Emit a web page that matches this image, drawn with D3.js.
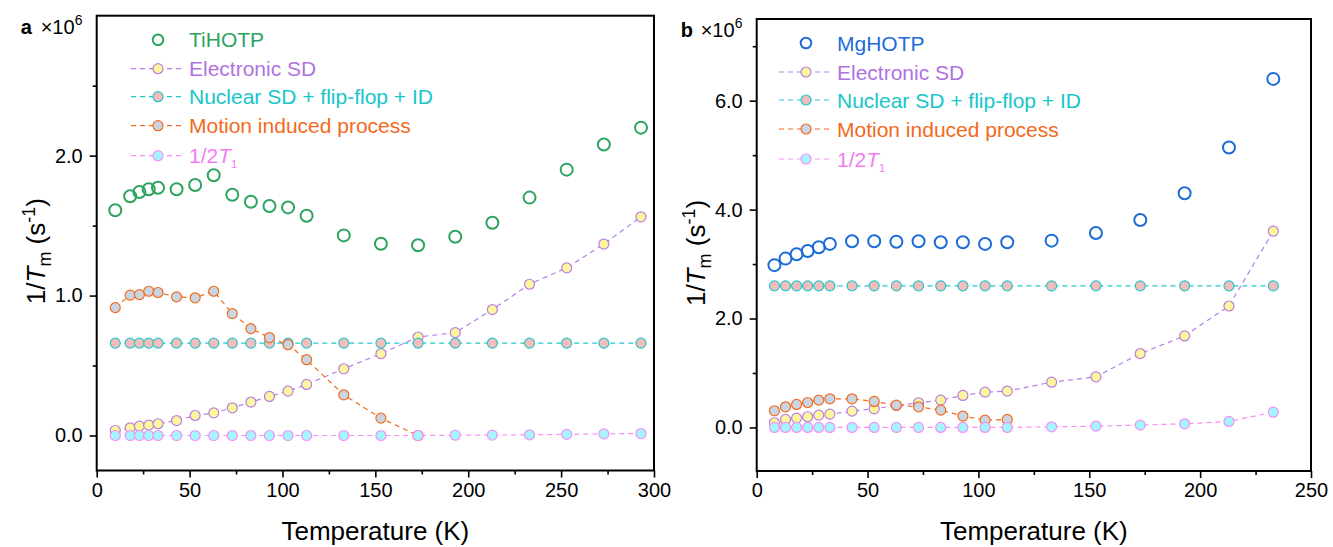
<!DOCTYPE html>
<html>
<head>
<meta charset="utf-8">
<script src="https://cdn.jsdelivr.net/npm/d3@7"></script>
<style>
  body { margin: 0; background: #fff; }
  svg { display: block; font-family: "Liberation Sans", Arial, sans-serif; }
</style>
</head>
<body>
<svg id="chart" width="1333" height="547"></svg>
<script>
// Panel a : TiHOTP
const tempA = [10, 18, 23, 28, 33, 43, 53, 63, 73, 83, 93, 103, 113, 133, 153, 173, 193, 213, 233, 253, 273, 293];
const tiHOTP = [1.61, 1.71, 1.74, 1.76, 1.77, 1.76, 1.79, 1.86, 1.72, 1.67, 1.64, 1.63, 1.57, 1.43, 1.37, 1.36, 1.42, 1.52, 1.70, 1.90, 2.08, 2.20];
const elecA = [0.036, 0.055, 0.067, 0.074, 0.084, 0.107, 0.143, 0.162, 0.198, 0.239, 0.279, 0.317, 0.365, 0.477, 0.585, 0.704, 0.735, 0.900, 1.081, 1.198, 1.368, 1.563];
const nucA = [0.66, 0.66, 0.66, 0.66, 0.66, 0.66, 0.66, 0.66, 0.66, 0.66, 0.66, 0.66, 0.66, 0.66, 0.66, 0.66, 0.66, 0.66, 0.66, 0.66, 0.66, 0.66];
const motionA = [0.914, 1.003, 1.007, 1.031, 1.022, 0.991, 0.984, 1.031, 0.871, 0.764, 0.700, 0.649, 0.542, 0.291, 0.124, 0.0];
const halfT1A = [0, 0, 0, 0, 0, 0, 0, 0, 0, 0, 0, 0, 0, 0, 0, 0, 0.002, 0.003, 0.005, 0.008, 0.012, 0.014];

// Panel b : MgHOTP
const tempB = [8, 13, 18, 23, 28, 33, 43, 53, 63, 73, 83, 93, 103, 113, 133, 153, 173, 193, 213, 233];
const mgHOTP = [2.98, 3.10, 3.18, 3.24, 3.31, 3.37, 3.42, 3.42, 3.41, 3.42, 3.40, 3.40, 3.37, 3.40, 3.43, 3.57, 3.81, 4.30, 5.14, 6.40];
const elecB = [0.086, 0.147, 0.171, 0.196, 0.226, 0.244, 0.299, 0.342, 0.403, 0.452, 0.501, 0.587, 0.648, 0.666, 0.831, 0.929, 1.357, 1.680, 2.230, 3.604];
const nucB = [2.6, 2.6, 2.6, 2.6, 2.6, 2.6, 2.6, 2.6, 2.6, 2.6, 2.6, 2.6, 2.6, 2.6, 2.6, 2.6, 2.6, 2.6, 2.6, 2.6];
const motionB = [0.306, 0.379, 0.422, 0.458, 0.501, 0.526, 0.526, 0.477, 0.409, 0.379, 0.318, 0.208, 0.134, 0.147];
const halfT1B = [0, 0, 0, 0, 0, 0, 0, 0, 0, 0, 0, 0, 0, 0, 0.012, 0.024, 0.043, 0.067, 0.11, 0.28];

const componentNames = ["Electronic SD", "Nuclear SD + flip-flop + ID", "Motion induced process", "1/2T1"];
const xTicksA = [0, 50, 100, 150, 200, 250, 300];
const xTicksB = [0, 50, 100, 150, 200, 250];
const yTicksA = [0, 1, 2];
const yTicksB = [0, 2, 4, 6];

// styles for the four components
const styles = [
    { line: "#b77fe6", fill: "#fcf69c", text: "#b071e0" },
    { line: "#22c9cc", fill: "#f4bdbb", text: "#16c6ca" },
    { line: "#f36b1e", fill: "#c9d5e3", text: "#f26a1b" },
    { line: "#f78ef5", fill: "#a3f6fd", text: "#f47cf0" }
];

const svg = d3.select("#chart");

function drawPanel(cfg) {
    const x = d3.scaleLinear().domain(cfg.xDomain).range([cfg.left, cfg.right]);
    const y = d3.scaleLinear().domain(cfg.yDomain).range([cfg.bottom, cfg.top]);
    const g = svg.append("g");

    // minor ticks
    g.append("g")
        .attr("transform", "translate(0," + cfg.bottom + ")")
        .call(d3.axisBottom(x).tickValues(cfg.xMinor).tickSize(4).tickFormat(""))
        .call(a => a.select(".domain").remove());
    g.append("g")
        .attr("transform", "translate(" + cfg.left + ",0)")
        .call(d3.axisLeft(y).tickValues(cfg.yMinor).tickSize(4).tickFormat(""))
        .call(a => a.select(".domain").remove());

    // major ticks
    const xa = g.append("g")
        .attr("transform", "translate(0," + cfg.bottom + ")")
        .call(d3.axisBottom(x).tickValues(cfg.xTicks).tickSize(7).tickPadding(5).tickFormat(d3.format("d")));
    const ya = g.append("g")
        .attr("transform", "translate(" + cfg.left + ",0)")
        .call(d3.axisLeft(y).tickValues(cfg.yTicks).tickSize(7).tickPadding(7).tickFormat(d3.format(".1f")));
    [xa, ya].forEach(a => {
        a.select(".domain").remove();
        a.selectAll("text").attr("font-size", 20).attr("fill", "#000").attr("font-family", "Liberation Sans, Arial");
    });
    g.selectAll(".tick line").attr("stroke", "#000").attr("stroke-width", 1.6);

    // series
    const sets = cfg.series;
    sets.forEach((vals, i) => {
        const st = styles[i];
        const pts = vals.map((v, j) => [cfg.temps[j], v]);
        g.append("path")
            .attr("d", d3.line().x(d => x(d[0])).y(d => y(d[1]))(pts))
            .attr("fill", "none")
            .attr("stroke", st.line)
            .attr("stroke-width", 1.2)
            .attr("stroke-dasharray", "5,4");
        g.selectAll(null)
            .data(pts)
            .enter()
            .append("circle")
            .attr("cx", d => x(d[0]))
            .attr("cy", d => y(d[1]))
            .attr("r", 5)
            .attr("fill", st.fill)
            .attr("stroke", st.line)
            .attr("stroke-width", 1.2);
    });

    // main sample (open circles)
    g.selectAll(null)
        .data(cfg.main.map((v, j) => [cfg.temps[j], v]))
        .enter()
        .append("circle")
        .attr("cx", d => x(d[0]))
        .attr("cy", d => y(d[1]))
        .attr("r", 6)
        .attr("fill", "none")
        .attr("stroke", cfg.mainColor)
        .attr("stroke-width", 2);

    // frame
    g.append("rect")
        .attr("x", cfg.left)
        .attr("y", cfg.top)
        .attr("width", cfg.right - cfg.left)
        .attr("height", cfg.bottom - cfg.top)
        .attr("fill", "none")
        .attr("stroke", "#000")
        .attr("stroke-width", 2);

    // legend
    const lx = cfg.legendX;
    const rowY = [cfg.top + 24, cfg.top + 53, cfg.top + 81, cfg.top + 110, cfg.top + 140];
    g.append("circle")
        .attr("cx", lx).attr("cy", rowY[0]).attr("r", 5.3)
        .attr("fill", "none").attr("stroke", cfg.mainColor).attr("stroke-width", 2);
    g.append("text")
        .attr("x", lx + 31).attr("y", rowY[0]).attr("dy", "0.36em")
        .attr("font-size", 21).attr("fill", cfg.mainColor)
        .text(cfg.mainName);
    componentNames.forEach((name, i) => {
        const st = styles[i];
        const ry = rowY[i + 1];
        g.append("line")
            .attr("x1", lx - 27).attr("x2", lx + 23)
            .attr("y1", ry).attr("y2", ry)
            .attr("stroke", st.line).attr("stroke-width", 1.2)
            .attr("stroke-dasharray", "5,4");
        g.append("circle")
            .attr("cx", lx).attr("cy", ry).attr("r", 5)
            .attr("fill", st.fill).attr("stroke", st.line).attr("stroke-width", 1.2);
        const t = g.append("text")
            .attr("x", lx + 31).attr("y", ry).attr("dy", "0.36em")
            .attr("font-size", 21).attr("fill", st.text);
        if (name === "1/2T1") {
            t.append("tspan").text("1/2");
            t.append("tspan").attr("font-style", "italic").text("T");
            t.append("tspan").attr("font-size", 11).attr("dy", 5).text("1");
        } else {
            t.text(name);
        }
    });

    // panel letter and multiplier
    g.append("text")
        .attr("x", cfg.left - 76).attr("y", cfg.top + 18)
        .attr("font-size", 20).attr("font-weight", "bold").text(cfg.letter);
    const m = g.append("text")
        .attr("x", cfg.left - 56).attr("y", cfg.top + 18)
        .attr("font-size", 20);
    m.append("tspan").text("\u00d710");
    m.append("tspan").attr("font-size", 14).attr("dy", -9).text("6");

    // axis titles
    g.append("text")
        .attr("x", (cfg.left + cfg.right) / 2)
        .attr("y", cfg.bottom + 69)
        .attr("text-anchor", "middle")
        .attr("font-size", 26)
        .text("Temperature (K)");
    const yt = g.append("text")
        .attr("transform", "translate(" + (cfg.left - 52) + "," + ((cfg.top + cfg.bottom) / 2 + 8) + ") rotate(-90)")
        .attr("text-anchor", "middle")
        .attr("font-size", 26);
    yt.append("tspan").text("1/");
    yt.append("tspan").attr("font-style", "italic").text("T");
    yt.append("tspan").attr("font-size", 18).attr("dy", 6).text("m");
    yt.append("tspan").attr("dy", -6).text(" (s");
    yt.append("tspan").attr("font-size", 18).attr("dy", -10).text("-1");
    yt.append("tspan").attr("dy", 10).text(")");
}

drawPanel({
    left: 96.7, right: 654, top: 15.7, bottom: 470.5,
    xDomain: [0, 300], yDomain: [-0.25, 3.0],
    xTicks: xTicksA, xMinor: [25, 75, 125, 175, 225, 275],
    yTicks: yTicksA, yMinor: [0.5, 1.5, 2.5],
    temps: tempA,
    series: [elecA, nucA, motionA, halfT1A],
    main: tiHOTP, mainColor: "#2ea35f", mainName: "TiHOTP",
    legendX: 158, letter: "a"
});

drawPanel({
    left: 756.7, right: 1311, top: 19, bottom: 471,
    xDomain: [0, 250], yDomain: [-0.8, 7.5],
    xTicks: xTicksB, xMinor: [25, 75, 125, 175, 225],
    yTicks: yTicksB, yMinor: [1, 3, 5, 7],
    temps: tempB,
    series: [elecB, nucB, motionB, halfT1B],
    main: mgHOTP, mainColor: "#1c6cd8", mainName: "MgHOTP",
    legendX: 806, letter: "b"
});
</script>
</body>
</html>
